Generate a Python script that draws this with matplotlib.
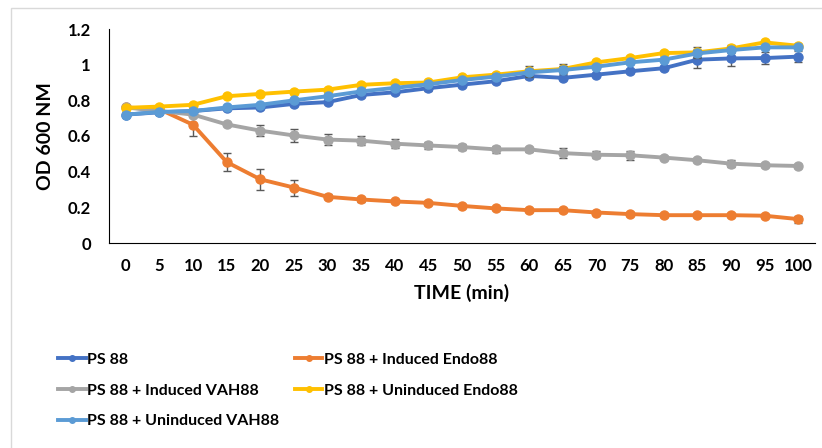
import matplotlib.pyplot as plt
import numpy as np
from matplotlib.patches import Rectangle

plt.rcParams['font.family'] = ['Lato', 'DejaVu Sans']

# time points (min)
time = [0, 5, 10, 15, 20, 25, 30, 35, 40, 45, 50, 55, 60, 65, 70, 75, 80, 85, 90, 95, 100]

ps88 = [0.72, 0.733, 0.74, 0.755, 0.76, 0.78, 0.79, 0.83, 0.845, 0.868, 0.888, 0.907, 0.937,
        0.926, 0.944, 0.963, 0.98, 1.028, 1.035, 1.037, 1.045]
ind_endo = [0.76, 0.75, 0.663, 0.454, 0.357, 0.311, 0.259, 0.244, 0.233, 0.225, 0.208, 0.194,
            0.184, 0.184, 0.171, 0.162, 0.156, 0.156, 0.156, 0.153, 0.134]
ind_vah = [0.76, 0.74, 0.72, 0.665, 0.63, 0.603, 0.58, 0.574, 0.557, 0.547, 0.538, 0.525,
           0.525, 0.504, 0.495, 0.492, 0.479, 0.464, 0.445, 0.436, 0.432]
unind_endo = [0.758, 0.765, 0.775, 0.823, 0.836, 0.849, 0.86, 0.887, 0.896, 0.90, 0.929, 0.944,
              0.963, 0.976, 1.013, 1.037, 1.065, 1.069, 1.091, 1.125, 1.106]
unind_vah = [0.72, 0.735, 0.74, 0.76, 0.775, 0.80, 0.823, 0.85, 0.87, 0.89, 0.914, 0.933,
             0.957, 0.97, 0.989, 1.013, 1.028, 1.063, 1.082, 1.097, 1.097]

# error bars (estimated)
err_ps88 = [0, 0, 0, 0, 0.01, 0.01, 0.01, 0.01, 0.01, 0.015, 0.015, 0.01, 0.015,
            0.01, 0.01, 0.01, 0.01, 0.045, 0.04, 0.035, 0.03]
err_ind_endo = [0, 0, 0.065, 0.05, 0.06, 0.045, 0.015, 0.015, 0.01, 0.01, 0.01, 0.01,
                0.01, 0.01, 0.01, 0.01, 0.01, 0.01, 0.01, 0.01, 0.02]
err_ind_vah = [0, 0, 0.01, 0.01, 0.03, 0.035, 0.03, 0.025, 0.025, 0.02, 0.015, 0.02,
               0.015, 0.03, 0.02, 0.025, 0.01, 0.01, 0.02, 0.01, 0.01]
err_unind_endo = [0, 0, 0, 0, 0, 0, 0, 0, 0, 0.01, 0.01, 0.01, 0.03, 0.025, 0.01, 0.01,
                  0.01, 0.03, 0.02, 0.01, 0.01]
err_unind_vah = [0, 0, 0, 0, 0, 0, 0, 0, 0, 0.015, 0.01, 0.015, 0.02, 0.02, 0.01, 0.01,
                 0.01, 0.02, 0.015, 0.01, 0.01]

series = [
    ('PS 88', ps88, err_ps88, '#4472C4'),
    ('PS 88 + Induced Endo88', ind_endo, err_ind_endo, '#ED7D31'),
    ('PS 88 + Induced VAH88', ind_vah, err_ind_vah, '#A5A5A5'),
    ('PS 88 + Uninduced Endo88', unind_endo, err_unind_endo, '#FFC000'),
    ('PS 88 + Uninduced VAH88', unind_vah, err_unind_vah, '#5B9BD5'),
]

fig = plt.figure(figsize=(8.22, 4.48), dpi=100)
fig.patches.append(Rectangle((11 / 822, -0.05), 1.0, 1 - 8 / 448 + 0.05,
                             transform=fig.transFigure, fill=False,
                             edgecolor='#D9D9D9', linewidth=1))
ax = fig.add_axes([109 / 822, 1 - 243 / 448, 706 / 822, 214 / 448])

x = np.arange(len(time))
handles = []
for i, (name, vals, err, col) in enumerate(series):
    ax.errorbar(x, vals, yerr=err, fmt='none', ecolor='#595959', elinewidth=1,
                capsize=3, capthick=1, zorder=2 + i)
    h, = ax.plot(x, vals, color=col, linewidth=2.8, marker='o', markersize=6.5,
                 label=name, zorder=3 + i)
    handles.append(h)

ax.set_xlim(-0.5, len(time) - 0.5)
ax.set_ylim(0, 1.2)
ax.set_xticks(x)
ax.set_xticklabels([str(t) for t in time])
ax.set_yticks([0, 0.2, 0.4, 0.6, 0.8, 1.0, 1.2])
ax.set_yticklabels(['0', '0.2', '0.4', '0.6', '0.8', '1', '1.2'])
ax.tick_params(axis='x', length=0, labelsize=12, pad=11)
ax.tick_params(axis='y', length=0, labelsize=12, pad=13)
for lab in ax.get_xticklabels() + ax.get_yticklabels():
    lab.set_fontweight('bold')
ax.spines['top'].set_visible(False)
ax.spines['right'].set_visible(False)
ax.spines['left'].set_color('black')
ax.spines['bottom'].set_color('black')

ax.set_xlabel('TIME (min)', fontsize=14, fontweight='bold', labelpad=7)
ax.set_ylabel('OD 600 NM', fontsize=14, fontweight='bold', labelpad=10)

order = [0, 2, 4, 1, 3]
leg = fig.legend([handles[k] for k in order], [series[k][0] for k in order],
                 ncol=2, loc='upper left', bbox_to_anchor=(44 / 822, 1 - 338 / 448),
                 frameon=False, handlelength=1.7, handletextpad=0.1,
                 columnspacing=1.0, labelspacing=1.05,
                 prop={'weight': 'bold', 'size': 11.5})
for lh in leg.legend_handles:
    lh.set_markersize(4)

fig.savefig('out.png', dpi=100)
